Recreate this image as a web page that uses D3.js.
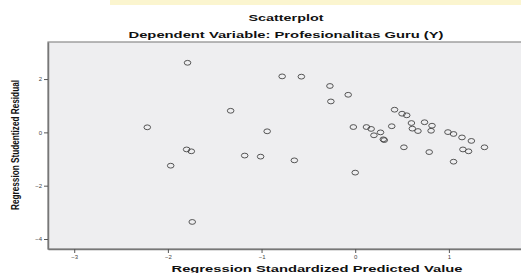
<!DOCTYPE html>
<html>
<head>
<meta charset="utf-8">
<script src="https://cdn.jsdelivr.net/npm/d3@7"></script>
<style>
  body { margin: 0; background: #fff; }
  svg { display: block; font-family: Arial, "Liberation Sans", sans-serif; }
</style>
</head>
<body>
<div class="chart-box"></div>
<script>
// predicted values (x) and studentized residuals (y)
var predicted = [-1.79, -0.78, -0.575, -0.27, -0.075, -0.26, -1.33, -0.94, -1.80, -1.75,
                 -1.18, -1.01, -0.65, -1.97, -1.74, -2.22,
                 0.42, 0.50, 0.55, -0.02, 0.12, 0.17, 0.27, 0.20, 0.39, 0.30, 0.31,
                 0.60, 0.61, 0.67, 0.74, 0.82, 0.81, 0.52, 0.79, 0.00,
                 0.99, 1.05, 1.14, 1.24, 1.15, 1.21, 1.38, 1.05];
var residual  = [2.61, 2.10, 2.09, 1.74, 1.41, 1.16, 0.81, 0.04, -0.64, -0.71,
                 -0.87, -0.91, -1.05, -1.25, -3.36, 0.19,
                 0.85, 0.70, 0.64, 0.20, 0.20, 0.13, 0.00, -0.11, 0.23, -0.26, -0.29,
                 0.35, 0.14, 0.05, 0.38, 0.25, 0.06, -0.56, -0.74, -1.51,
                 0.01, -0.06, -0.19, -0.32, -0.64, -0.71, -0.56, -1.10];

var xTicks = [-3, -2, -1, 0, 1];
var yTicks = [-4, -2, 0, 2];

const WIDTH = 521, HEIGHT = 273;
const MARGIN = { left: 48, right: 0, top: 42, bottom: 24 };

const svg = d3.select(".chart-box").append("svg")
    .attr("width", WIDTH)
    .attr("height", HEIGHT);

// scrap of the page above the chart
svg.append("rect")
    .attr("x", 110).attr("y", 0)
    .attr("width", 411).attr("height", 5)
    .attr("fill", "#fbf5cf");

// titles (stretched to the width they have in the picture)
svg.append("text")
    .attr("x", 286).attr("y", 21)
    .attr("text-anchor", "middle")
    .attr("textLength", 75).attr("lengthAdjust", "spacingAndGlyphs")
    .style("font-size", "9.5px").style("font-weight", "bold")
    .attr("fill", "#111")
    .text("Scatterplot");

svg.append("text")
    .attr("x", 286).attr("y", 38)
    .attr("text-anchor", "middle")
    .attr("textLength", 315).attr("lengthAdjust", "spacingAndGlyphs")
    .style("font-size", "9.5px").style("font-weight", "bold")
    .attr("fill", "#111")
    .text("Dependent Variable: Profesionalitas Guru (Y)");

// scales
var xScale = d3.scaleLinear()
    .domain([-3.28, 1.77])
    .range([MARGIN.left, WIDTH - MARGIN.right]);

var yScale = d3.scaleLinear()
    .domain([-4.375, 3.39])
    .range([HEIGHT - MARGIN.bottom, MARGIN.top]);

// plot area
svg.append("rect")
    .attr("x", MARGIN.left).attr("y", MARGIN.top)
    .attr("width", WIDTH - MARGIN.left - MARGIN.right + 2)
    .attr("height", HEIGHT - MARGIN.top - MARGIN.bottom)
    .attr("fill", "#eeeef0")
    .attr("stroke", "#8a8a8a")
    .attr("stroke-width", 1.2);

// axes
const xAxis = svg.append("g")
    .attr("transform", `translate(0,${HEIGHT - MARGIN.bottom})`)
    .call(d3.axisBottom(xScale).tickValues(xTicks).tickFormat(d3.format("d"))
        .tickSize(4).tickSizeOuter(0));

const yAxis = svg.append("g")
    .attr("transform", `translate(${MARGIN.left},0)`)
    .call(d3.axisLeft(yScale).tickValues(yTicks).tickFormat(d3.format("d"))
        .tickSize(4).tickSizeOuter(0));

[xAxis, yAxis].forEach(function(ax) {
    ax.select(".domain").attr("stroke", "#777").attr("stroke-width", 1.5);
    ax.selectAll(".tick line").attr("stroke", "#555");
    ax.selectAll(".tick text").attr("fill", "#444").style("font-size", "6px");
});
xAxis.selectAll(".tick text").attr("y", 6).attr("dy", "0.71em");
yAxis.selectAll(".tick text").attr("x", -6);

// axis titles
svg.append("text")
    .attr("x", 317).attr("y", 272)
    .attr("text-anchor", "middle")
    .attr("textLength", 291).attr("lengthAdjust", "spacingAndGlyphs")
    .style("font-size", "8.5px").style("font-weight", "bold")
    .attr("fill", "#111")
    .text("Regression Standardized Predicted Value");

svg.append("text")
    .attr("transform", "translate(19,145) rotate(-90)")
    .attr("text-anchor", "middle")
    .attr("textLength", 130).attr("lengthAdjust", "spacingAndGlyphs")
    .style("font-size", "11px").style("font-weight", "bold")
    .attr("fill", "#111")
    .text("Regression Studentized Residual");

// points
var points = predicted.map((d, i) => ({ x: d, y: residual[i] }));

svg.selectAll(".pt")
    .data(points)
    .enter()
    .append("ellipse")
    .attr("class", "pt")
    .attr("cx", d => xScale(d.x))
    .attr("cy", d => yScale(d.y))
    .attr("rx", 3.3)
    .attr("ry", 2.4)
    .attr("fill", "none")
    .attr("stroke", "#444")
    .attr("stroke-width", 0.9);
</script>
</body>
</html>
